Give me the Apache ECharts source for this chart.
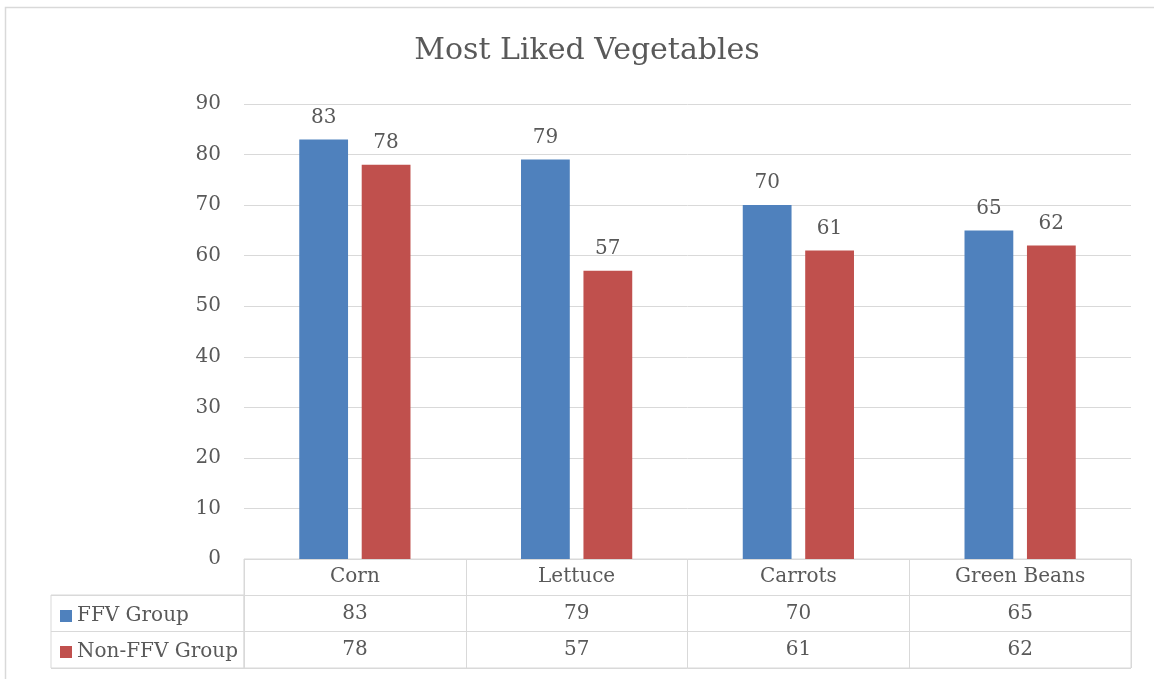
<!DOCTYPE html>
<html>
<head>
<meta charset="utf-8">
<script src="https://cdn.jsdelivr.net/npm/echarts@6/dist/echarts.min.js"></script>
<style>
html,body{margin:0;padding:0;background:#fff;}
#chart{width:1154px;height:679px;}
</style>
</head>
<body>
<div id="chart"></div>
<script>
// data
var categories = ['Corn', 'Lettuce', 'Carrots', 'Green Beans'];
var seriesNames = ['FFV Group', 'Non-FFV Group'];
var ffvValues = [83, 79, 70, 65];
var nonFfvValues = [78, 57, 61, 62];
var yTicks = [0, 10, 20, 30, 40, 50, 60, 70, 80, 90];

var FONT = 'DejaVu Serif';
var TXT = '#595959';
var LINE = '#d9d9d9';
var colors = ['#4f81bd', '#c0504d'];

var chart = echarts.init(document.getElementById('chart'));

// rows of the data table: header, FFV, Non-FFV
var rowNames = ['head', seriesNames[0], seriesNames[1]];
var rowValues = [categories, ffvValues, nonFfvValues];
var cells = [];
rowValues.forEach(function (row, r) {
	row.forEach(function (v, c) {
		cells.push({value: [c, r], text: String(v)});
	});
});

var option = {
	animation: false,
	color: colors,
	title: {
		text: 'Most Liked Vegetables',
		left: 582,
		top: 31,
		textAlign: 'center',
		textStyle: {fontFamily: FONT, fontSize: 30, fontWeight: 'normal', color: TXT}
	},
	legend: {
		data: seriesNames,
		orient: 'vertical',
		left: 55,
		top: 599,
		icon: 'rect',
		itemWidth: 12,
		itemHeight: 12,
		itemGap: 12,
		textStyle: {fontFamily: FONT, fontSize: 20, color: TXT, lineHeight: 24}
	},
	graphic: [{
		type: 'rect',
		left: 3, top: 5,
		shape: {width: 1152, height: 680},
		style: {fill: 'none', stroke: LINE, lineWidth: 1.5},
		silent: true
	}],
	grid: [
		{left: 244, right: 23, top: 104, bottom: 120},
		{left: 244, right: 23, top: 559, height: 109, show: true, borderColor: LINE, borderWidth: 1},
		{left: 51, width: 193, top: 595, height: 73, show: true, borderColor: LINE, borderWidth: 1}
	],
	xAxis: [
		{type: 'category', gridIndex: 0, data: categories,
			axisLine: {show: false}, axisTick: {show: false}, axisLabel: {show: false}},
		{type: 'category', gridIndex: 1, data: categories,
			axisLine: {show: false}, axisTick: {show: false}, axisLabel: {show: false},
			splitLine: {show: true, lineStyle: {color: LINE}}},
		{type: 'value', gridIndex: 2, min: 0, max: 1, show: false}
	],
	yAxis: [
		{type: 'value', gridIndex: 0, min: 0, max: 90, interval: 10,
			axisLine: {show: false}, axisTick: {show: false},
			axisLabel: {fontFamily: FONT, fontSize: 20, color: TXT, margin: 23},
			splitLine: {lineStyle: {color: LINE}}},
		{type: 'category', gridIndex: 1, data: rowNames, inverse: true,
			axisLine: {show: false}, axisTick: {show: false}, axisLabel: {show: false},
			splitLine: {show: true, lineStyle: {color: LINE}}},
		{type: 'category', gridIndex: 2, data: seriesNames, inverse: true,
			axisLine: {show: false}, axisTick: {show: false}, axisLabel: {show: false},
			splitLine: {show: true, lineStyle: {color: LINE}}}
	],
	series: [
		{
			name: seriesNames[0], type: 'bar', xAxisIndex: 0, yAxisIndex: 0,
			data: ffvValues, barWidth: '22%', barGap: '28%',
			label: {show: true, position: 'top', distance: 12, fontFamily: FONT, fontSize: 20, color: TXT}
		},
		{
			name: seriesNames[1], type: 'bar', xAxisIndex: 0, yAxisIndex: 0,
			data: nonFfvValues, barWidth: '22%', barGap: '28%',
			label: {show: true, position: 'top', distance: 12, fontFamily: FONT, fontSize: 20, color: TXT}
		},
		{
			type: 'scatter', xAxisIndex: 1, yAxisIndex: 1,
			symbolSize: 0, silent: true,
			itemStyle: {opacity: 1},
			data: cells,
			label: {
				show: true, position: 'inside',
				fontFamily: FONT, fontSize: 20, color: TXT,
				formatter: function (p) { return p.data.text; }
			}
		}
	]
};

chart.setOption(option);
</script>
</body>
</html>
